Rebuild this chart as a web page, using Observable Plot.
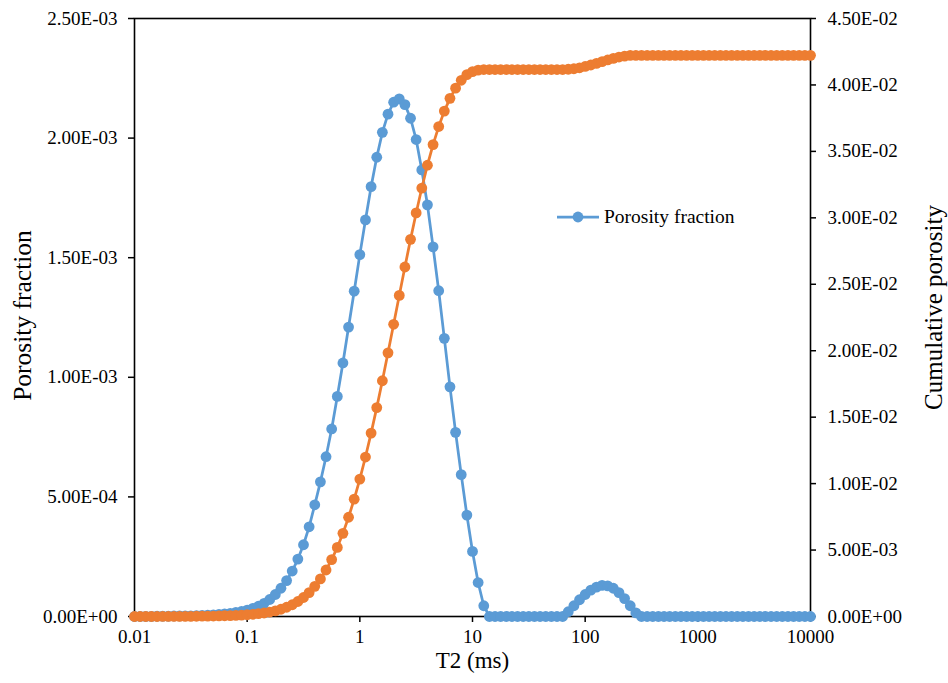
<!DOCTYPE html>
<html>
<head>
<meta charset="utf-8">
<script src="https://cdn.jsdelivr.net/npm/d3@7"></script>
<script src="https://cdn.jsdelivr.net/npm/@observablehq/plot@0.6"></script>
<style>
  html, body { margin: 0; padding: 0; background: #fff; }
  #chart { position: relative; width: 948px; height: 683px; font-family: "Liberation Serif", serif; }
  #legend { position: absolute; left: 556px; top: 206px; display: flex; align-items: center; font-size: 19.5px; color: #000; white-space: nowrap; }
</style>
</head>
<body>
<div id="chart"></div>
<script>
// T2 relaxation times (ms)
const t2 = [
  0.01, 0.01122, 0.01259, 0.01413, 0.01585, 0.01778, 0.01995, 0.02239, 0.02512, 0.02818, 0.03162, 0.03548, 0.03981, 0.04467, 0.05012, 0.05623, 0.0631, 0.07079, 0.07943, 0.08913,
  0.1, 0.1122, 0.1259, 0.1413, 0.1585, 0.1778, 0.1995, 0.2239, 0.2512, 0.2818, 0.3162, 0.3548, 0.3981, 0.4467, 0.5012, 0.5623, 0.631, 0.7079, 0.7943, 0.8913,
  1, 1.122, 1.259, 1.413, 1.585, 1.778, 1.995, 2.239, 2.512, 2.818, 3.162, 3.548, 3.981, 4.467, 5.012, 5.623, 6.31, 7.079, 7.943, 8.913,
  10, 11.22, 12.59, 14.13, 15.85, 17.78, 19.95, 22.39, 25.12, 28.18, 31.62, 35.48, 39.81, 44.67, 50.12, 56.23, 63.1, 70.79, 79.43, 89.13,
  100, 112.2, 125.9, 141.3, 158.5, 177.8, 199.5, 223.9, 251.2, 281.8, 316.2, 354.8, 398.1, 446.7, 501.2, 562.3, 631, 707.9, 794.3, 891.3,
  1000, 1122, 1259, 1413, 1585, 1778, 1995, 2239, 2512, 2818, 3162, 3548, 3981, 4467, 5012, 5623, 6310, 7079, 7943, 8913,
  10000
];

// Porosity fraction, in units of 1E-03
const porosityE3 = [
  0, 0, 0, 0, 0.001, 0.001, 0.001, 0.002, 0.002, 0.003, 0.003, 0.004, 0.005, 0.006, 0.007, 0.009, 0.011, 0.013, 0.017, 0.021,
  0.027, 0.034, 0.043, 0.055, 0.071, 0.092, 0.118, 0.150, 0.190, 0.240, 0.300, 0.375, 0.467, 0.563, 0.668, 0.784, 0.920, 1.060, 1.210, 1.360,
  1.513, 1.658, 1.797, 1.920, 2.024, 2.100, 2.150, 2.164, 2.140, 2.083, 1.994, 1.867, 1.721, 1.545, 1.362, 1.163, 0.960, 0.770, 0.593, 0.424,
  0.272, 0.142, 0.045, 0, 0, 0, 0, 0, 0, 0, 0, 0, 0, 0, 0, 0, 0, 0.020, 0.045, 0.070,
  0.092, 0.110, 0.123, 0.130, 0.128, 0.118, 0.100, 0.075, 0.045, 0.015, 0, 0, 0, 0, 0, 0, 0, 0, 0, 0,
  0, 0, 0, 0, 0, 0, 0, 0, 0, 0, 0, 0, 0, 0, 0, 0, 0, 0, 0, 0,
  0
];

// Cumulative porosity, in units of 1E-02
const cumulativeE2 = [
  0, 0, 0, 0, 0.0001, 0.0002, 0.0003, 0.0005, 0.0007, 0.0010, 0.0013, 0.0017, 0.0022, 0.0028, 0.0035, 0.0044, 0.0055, 0.0068, 0.0085, 0.0106,
  0.0133, 0.0167, 0.0210, 0.0265, 0.0336, 0.0428, 0.0546, 0.0696, 0.0886, 0.113, 0.143, 0.180, 0.227, 0.283, 0.350, 0.428, 0.520, 0.626, 0.747, 0.883,
  1.034, 1.200, 1.380, 1.572, 1.774, 1.984, 2.199, 2.416, 2.630, 2.838, 3.037, 3.224, 3.396, 3.551, 3.687, 3.803, 3.899, 3.976, 4.035, 4.078,
  4.100, 4.112, 4.116, 4.116, 4.116, 4.116, 4.116, 4.116, 4.116, 4.116, 4.116, 4.116, 4.116, 4.116, 4.116, 4.116, 4.116, 4.118, 4.122, 4.129,
  4.139, 4.150, 4.162, 4.175, 4.188, 4.200, 4.210, 4.217, 4.222, 4.223, 4.223, 4.223, 4.223, 4.223, 4.223, 4.223, 4.223, 4.223, 4.223, 4.223,
  4.223, 4.223, 4.223, 4.223, 4.223, 4.223, 4.223, 4.223, 4.223, 4.223, 4.223, 4.223, 4.223, 4.223, 4.223, 4.223, 4.223, 4.223, 4.223, 4.223,
  4.223
];

const xTicks = [0.01, 0.1, 1, 10, 100, 1000, 10000];
const leftTicks = [0, 0.0005, 0.001, 0.0015, 0.002, 0.0025];
const rightTicks = [0, 0.005, 0.01, 0.015, 0.02, 0.025, 0.03, 0.035, 0.04, 0.045];
const leftMax = 0.0025;
const rightMax = 0.045;

const blueColor = "#5B9BD5";
const orangeColor = "#ED7D31";

const k = leftMax / rightMax; // right-axis value -> left-axis scale

function fmtE(v) {
  if (Math.abs(v) < 1e-12) return "0.00E+00";
  const [m, e] = v.toExponential(2).split("e");
  const n = +e;
  return m + "E" + (n < 0 ? "-" : "+") + String(Math.abs(n)).padStart(2, "0");
}

const blueData = t2.map((t, i) => ({t2: t, v: porosityE3[i] * 1e-3}));
const orangeData = t2.map((t, i) => ({t2: t, v: cumulativeE2[i] * 1e-2 * k}));

const fontFam = "'Liberation Serif', 'Times New Roman', serif";

const plot = Plot.plot({
  width: 948,
  height: 683,
  marginLeft: 134,
  marginRight: 138,
  marginTop: 18,
  marginBottom: 67,
  x: {type: "log", domain: [0.01, 10000]},
  y: {domain: [0, leftMax]},
  style: {fontFamily: fontFam, fontSize: "19px", color: "#000", background: "#fff"},
  marks: [
    Plot.frame({stroke: "#000", strokeWidth: 1.6}),
    Plot.axisX({ticks: xTicks, tickFormat: d => String(d), tickSize: 6, tickPadding: 7, label: null, strokeWidth: 1.5}),
    Plot.axisY({ticks: leftTicks, tickFormat: fmtE, tickSize: 6, tickPadding: 11, label: null, strokeWidth: 1.5}),
    Plot.axisY({anchor: "right", ticks: rightTicks.map(v => v * k), tickFormat: d => fmtE(d / k), tickSize: 5, tickPadding: 12, label: null, strokeWidth: 1.5}),
    Plot.line(blueData, {x: "t2", y: "v", stroke: blueColor, strokeWidth: 2.75}),
    Plot.dot(blueData, {x: "t2", y: "v", r: 5.4, fill: blueColor, stroke: "none"}),
    Plot.line(orangeData, {x: "t2", y: "v", stroke: orangeColor, strokeWidth: 2.75}),
    Plot.dot(orangeData, {x: "t2", y: "v", r: 5.4, fill: orangeColor, stroke: "none"}),
    Plot.text(["Porosity fraction"], {frameAnchor: "left", textAnchor: "middle", dx: -112, dy: -2, rotate: -90, fontSize: 25.5, fill: "#000"}),
    Plot.text(["Cumulative porosity"], {frameAnchor: "right", textAnchor: "middle", dx: 123, dy: -10, rotate: -90, fontSize: 25, fill: "#000"}),
    Plot.text(["T2 (ms)"], {frameAnchor: "bottom", textAnchor: "middle", dy: 51, fontSize: 23, fill: "#000"})
  ]
});

const chart = document.getElementById("chart");
chart.appendChild(plot);

const legend = document.createElement("div");
legend.id = "legend";
legend.innerHTML = `<svg width="44" height="14" style="margin-right:4px"><line x1="1" y1="7" x2="43" y2="7" stroke="${blueColor}" stroke-width="2.75"/><circle cx="22" cy="7" r="5.4" fill="${blueColor}"/></svg><span>Porosity fraction</span>`;
chart.appendChild(legend);
</script>
</body>
</html>
